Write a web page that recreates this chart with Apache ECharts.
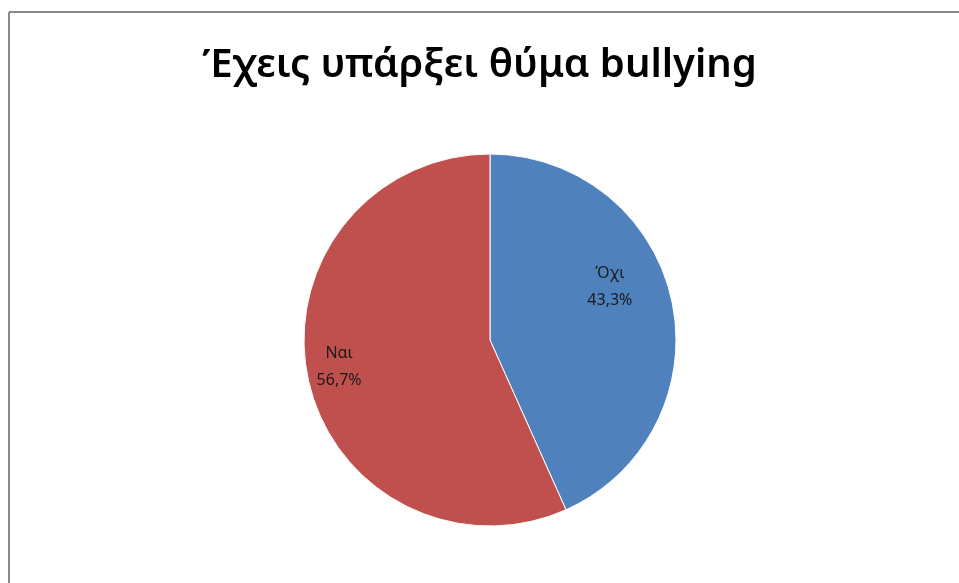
<!DOCTYPE html>
<html>
<head>
<meta charset="utf-8">
<script src="https://cdn.jsdelivr.net/npm/echarts@6/dist/echarts.min.js"></script>
<style>html,body{margin:0;padding:0;background:#fff}#c{width:959px;height:583px}</style>
</head>
<body>
<div id="c"></div>
<script>
var titleText = 'Έχεις υπάρξει θύμα bullying';
var categories = ['Όχι', 'Ναι'];
var values = [43.3, 56.7];
var colors = ['#4F81BD', '#C0504D'];
var labelShift = [[26, -33], [-57, 7]];

var chart = echarts.init(document.getElementById('c'));
chart.setOption({
  backgroundColor: '#fff',
  animation: false,
  title: {
    text: titleText, left: 'center', top: 41,
    textStyle: {fontFamily: 'Noto Sans', fontSize: 40, fontWeight: 600, color: '#000'}
  },
  graphic: [
    {type: 'line', shape: {x1: 9, y1: 12, x2: 959, y2: 12}, style: {stroke: '#8a8a8a', lineWidth: 2}},
    {type: 'line', shape: {x1: 9, y1: 12, x2: 9, y2: 583}, style: {stroke: '#8a8a8a', lineWidth: 2}}
  ],
  series: [{
    type: 'pie',
    center: [490, 340],
    radius: 186,
    startAngle: 90,
    clockwise: true,
    data: categories.map(function (c, i) { return {name: c, value: values[i], itemStyle: {color: colors[i]}}; }),
    itemStyle: {borderColor: '#fff', borderWidth: 1},
    label: {
      position: 'inside',
      formatter: function (p) { return p.name + '\n' + p.value.toFixed(1).replace('.', ',') + '%'; },
      fontFamily: 'Noto Sans', fontSize: 16, color: '#1a1a1a', lineHeight: 27
    },
    labelLayout: function (p) { return {dx: labelShift[p.dataIndex][0], dy: labelShift[p.dataIndex][1]}; },
    labelLine: {show: false},
    emphasis: {disabled: true}
  }]
});
</script>
</body>
</html>
